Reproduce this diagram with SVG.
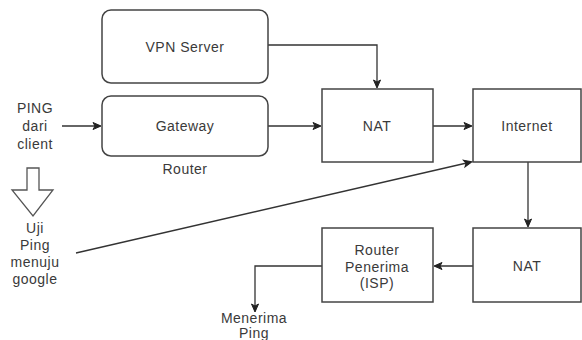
<svg xmlns="http://www.w3.org/2000/svg" width="582" height="340" viewBox="0 0 582 340">
<defs>
<marker id="ah" markerWidth="10" markerHeight="10" refX="8" refY="5" orient="auto" markerUnits="userSpaceOnUse">
<path d="M1,1.5 L9,5 L1,8.5 L3,5 Z" fill="#222" stroke="#222" stroke-width="1"/>
</marker>
<style>
.box{fill:#fff;stroke:#444;stroke-width:1.5}
.ln{fill:none;stroke:#333;stroke-width:1.3}
text{font-family:"Liberation Sans",Arial,sans-serif;font-size:14px;letter-spacing:0.5px;fill:#3a3a3a;text-anchor:middle}
</style>
</defs>
<rect width="582" height="340" fill="#fff"/>
<g id="connectors">
<path class="ln" d="M268,45 H377 V87" marker-end="url(#ah)"/>
<path class="ln" d="M62,126 H100" marker-end="url(#ah)"/>
<path class="ln" d="M268,126 H320" marker-end="url(#ah)"/>
<path class="ln" d="M433,126 H471" marker-end="url(#ah)"/>
<path class="ln" d="M76,253 L471,162" marker-end="url(#ah)"/>
<path class="ln" d="M528,162 V226" marker-end="url(#ah)"/>
<path class="ln" d="M473,266 H435" marker-end="url(#ah)"/>
<path class="ln" d="M322,266 H255 V311" marker-end="url(#ah)"/>
</g>
<g id="vpn-server">
<rect class="box" x="102" y="10" width="166" height="73" rx="9"/>
<text x="185" y="52">VPN Server</text>
</g>
<g id="gateway">
<rect class="box" x="102" y="96" width="166" height="60" rx="9"/>
<text x="185" y="131">Gateway</text>
</g>
<g id="router-label">
<text x="185" y="174">Router</text>
</g>
<g id="nat1">
<rect class="box" x="322" y="89" width="111" height="73"/>
<text x="377" y="131">NAT</text>
</g>
<g id="internet">
<rect class="box" x="473" y="89" width="108" height="73"/>
<text x="527" y="131">Internet</text>
</g>
<g id="nat2">
<rect class="box" x="473" y="228" width="108" height="74"/>
<text x="527" y="271">NAT</text>
</g>
<g id="router-penerima">
<rect class="box" x="322" y="228" width="111" height="74"/>
<text x="377" y="255">Router</text>
<text x="377" y="272">Penerima</text>
<text x="377" y="288">(ISP)</text>
</g>
<g id="ping-client">
<text x="35" y="113">PING</text>
<text x="35" y="131">dari</text>
<text x="35" y="149">client</text>
</g>
<g id="hollow-arrow">
<path d="M27,168 H39 V190 H53 L33,216 L12,190 H27 Z" fill="#fff" stroke="#555" stroke-width="1.3"/>
</g>
<g id="uji-ping">
<text x="35" y="233">Uji</text>
<text x="35" y="250">Ping</text>
<text x="35" y="267">menuju</text>
<text x="35" y="284">google</text>
</g>
<g id="menerima-ping">
<text x="254" y="323">Menerima</text>
<text x="254" y="338">Ping</text>
</g>
</svg>
